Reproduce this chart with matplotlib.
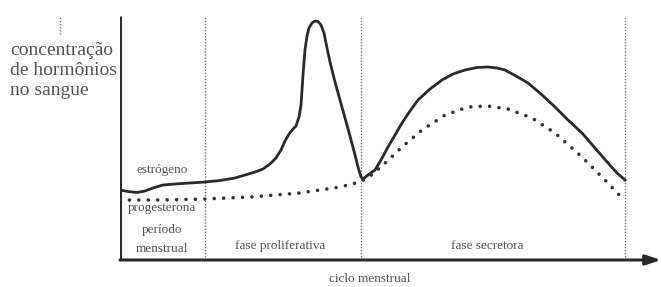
import matplotlib
matplotlib.use("Agg")
import matplotlib.pyplot as plt

# Data (x: position along cycle, y: hormone level; arbitrary units)
estrogen_x = [0, 8, 17, 25, 33, 43, 55, 70, 85, 100, 115, 125, 135, 143, 150, 156,
              161, 165, 169, 173, 176, 179, 181, 183, 185, 187, 189, 192, 195, 198,
              201, 204, 207, 210, 215, 220, 225, 230, 235, 238, 241, 243,
              248, 255, 261, 268, 275, 282, 290, 298, 310, 322, 333, 345, 357, 368,
              377, 385, 396, 408, 421, 435, 448, 462, 475, 488, 497, 505]
estrogen_y = [70, 68.5, 67.5, 69, 72, 75, 76, 77, 78, 79.5, 82, 85, 88, 91, 96, 102,
              110, 119, 126, 131, 134, 143, 155, 185, 210, 224, 232, 237, 239, 238.5,
              235, 227, 212, 198, 178, 160, 142, 124, 105, 93, 83, 81,
              85, 90, 100, 113, 125, 137, 149, 160, 171, 180, 186, 190, 192.5, 193,
              192, 190, 184, 177, 166, 153, 140, 127, 112, 97, 87, 80]
progesterone_x = [0, 40, 85, 130, 180, 220, 240, 250, 262, 282, 302, 325, 348, 368,
                  388, 412, 435, 462, 485, 505]
progesterone_y = [60, 60, 61, 63, 67, 73, 78, 84, 94, 113, 130, 145, 153, 154,
                  151, 142, 127, 103, 80, 59]
phase_bounds = [85, 241, 505]
phase_labels = ["fase proliferativa", "fase secretora"]
phase_label_x = [160, 367]

W, H = 661, 287
fig = plt.figure(figsize=(W / 100, H / 100), dpi=100)
x0, y0 = 120, 260
ax = fig.add_axes([x0 / W, (H - y0) / H, (W - x0) / W, 1 - (H - y0) / H])
ax.set_xlim(0, W - x0)
ax.set_ylim(0, y0)
ax.axis("off")

serif = ["Liberation Serif", "DejaVu Serif"]
tc = "#555555"
lc = "#2a2a2a"

# phase divider lines
for b in phase_bounds:
    ax.plot([b, b], [0, 244], color="#777777", lw=1.0, ls=(0, (1, 1.2)))

# y axis
ax.plot([0, 0], [0, 244], color=lc, lw=2.2, solid_capstyle="butt")
# x axis with arrow
ax.annotate("", xy=(W - x0, 0), xytext=(0, 0),
            arrowprops=dict(arrowstyle="-|>,head_length=0.9,head_width=0.3",
                            color=lc, lw=2.2, shrinkA=0, shrinkB=0),
            annotation_clip=False)

# small dotted mark top-left
ax.plot([-60, -60], [226, 244], color="#777777", lw=1.0, ls=(0, (1, 1.2)), clip_on=False)

# curves
ax.plot(estrogen_x, estrogen_y, color=lc, lw=2.0, solid_joinstyle="round")
ax.plot(progesterone_x, progesterone_y, color="#333333", lw=2.6,
        ls=(0, (0.01, 2.6)), dash_capstyle="round")

# labels
ax.text(-110, 218, "concentração\nde hormônios\nno sangue", family=serif, fontsize=14,
        color=tc, ha="left", va="top", linespacing=1.22, clip_on=False)
ax.text(42, 90, "estrógeno", family=serif, fontsize=9.5, color=tc, ha="center", va="center")
ax.text(42, 52, "progesterona", family=serif, fontsize=9.5, color=tc, ha="center", va="center")
ax.text(42, 30, "período", family=serif, fontsize=9.5, color=tc, ha="center", va="center")
ax.text(42, 11, "menstrual", family=serif, fontsize=9.5, color=tc, ha="center", va="center")
for lab, lx in zip(phase_labels, phase_label_x):
    ax.text(lx, 14, lab, family=serif, fontsize=9.5, color=tc, ha="center", va="center")
ax.text(250, -19, "ciclo menstrual", family=serif, fontsize=9.5, color=tc,
        ha="center", va="center", clip_on=False)

fig.savefig("out.png", dpi=100, facecolor="white")
